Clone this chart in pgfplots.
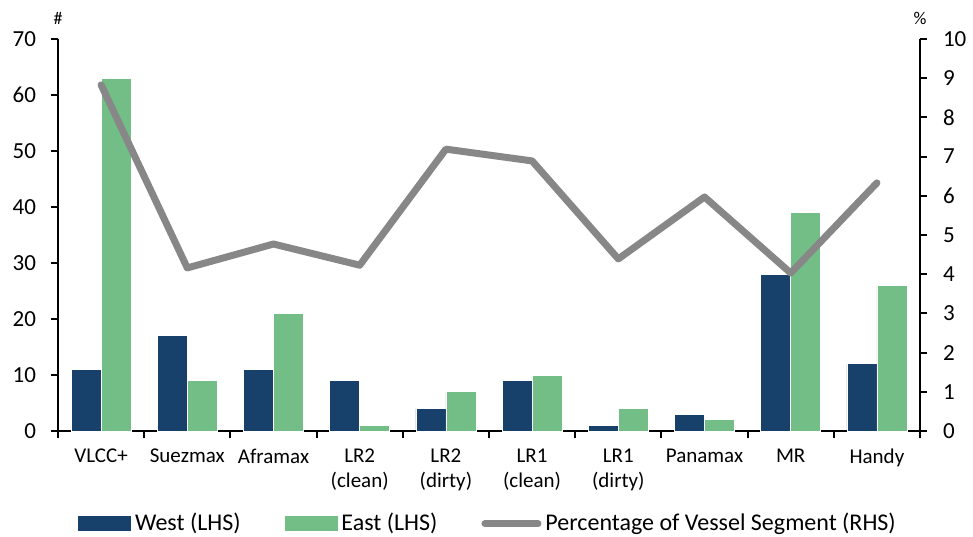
\documentclass[border=0pt]{standalone}
\usepackage{fontspec}
\setmainfont{Carlito}
\usepackage{pgfplots}
\usepackage{pgfplotstable}
\pgfplotsset{compat=1.18}

\definecolor{west}{HTML}{17406A}
\definecolor{east}{HTML}{73BE87}
\definecolor{share}{HTML}{878787}

% vessel counts (LHS) and share of segment in % (RHS)
\pgfplotstableread{
idx west east pct
0   11   63   8.83
1   17    9   4.16
2   11   21   4.77
3    9    1   4.23
4    4    7   7.19
5    9   10   6.89
6    1    4   4.39
7    3    2   5.97
8   28   39   4.03
9   12   26   6.33
}\fleet

\pgfplotsset{
  base/.style={
    scale only axis, width=431pt, height=196pt,
    xmin=-0.5, xmax=9.5,
    clip mode=individual,
    axis line style={line width=1pt, black, -},
    tick style={line width=1pt, black},
    tick align=outside, major tick length=3.5pt,
    /pgf/number format/assume math mode=true,
    yticklabel style={font=\fontsize{11.5}{13}\selectfont},
  },
}

\begin{document}
\begin{tikzpicture}
\begin{axis}[base,
  ymin=0, ymax=70, ytick={0,10,...,70},
  axis y line*=left, axis x line*=bottom,
  yticklabel style={xshift=-4pt},
  xtick={-0.5,0.5,...,9.5},
  x tick label as interval,
  xticklabels={VLCC+,Suezmax,Aframax,LR2\\(clean),LR2\\(dirty),LR1\\(clean),LR1\\(dirty),Panamax,MR,Handy},
  xticklabel style={align=center, font=\fontsize{10.5}{12.6}\selectfont, yshift=-2pt},
  ybar=0pt, bar width=15pt,
]
  \addplot[fill=west, draw=white, line width=0.4pt] table[x=idx, y=west] {\fleet};
  \addplot[fill=east, draw=white, line width=0.4pt] table[x=idx, y=east] {\fleet};
  \coordinate (o) at (rel axis cs:0,0);
  \node[font=\fontsize{9}{10}\selectfont, yshift=10.5pt] at (rel axis cs:0,1) {\#};
\end{axis}

\begin{axis}[base,
  ymin=0, ymax=10, ytick={0,1,...,10},
  axis y line*=right, axis x line=none,
  yticklabel style={xshift=4.5pt},
  legend columns=3,
  legend style={at={(0.5,0)}, anchor=north, yshift=-37pt, draw=none,
    font=\fontsize{12}{14}\selectfont,
    /tikz/every odd column/.append style={column sep=0pt},
    /tikz/every even column/.append style={column sep=20pt}},
]
  \addlegendimage{legend image code/.code={\fill[west] (0pt,-3.5pt) rectangle (26pt,3.5pt);}}
  \addlegendentry{West (LHS)}
  \addlegendimage{legend image code/.code={\fill[east] (0pt,-3.5pt) rectangle (26pt,3.5pt);}}
  \addlegendentry{East (LHS)}
  \addplot[share, line width=3.5pt, line cap=round, line join=round, mark=none,
    legend image code/.code={\draw[share, line width=3.5pt, line cap=round] (1.5pt,0pt) -- (28pt,0pt);}]
    table[x=idx, y=pct] {\fleet};
  \addlegendentry{Percentage of Vessel Segment (RHS)}
  \node[font=\fontsize{9}{10}\selectfont, yshift=10.5pt] at (rel axis cs:1,1) {\%};
\end{axis}

\pgfresetboundingbox
\path ([xshift=-29pt,yshift=-52.5pt]o) rectangle ([xshift=457.5pt,yshift=215.5pt]o);
\end{tikzpicture}
\end{document}
